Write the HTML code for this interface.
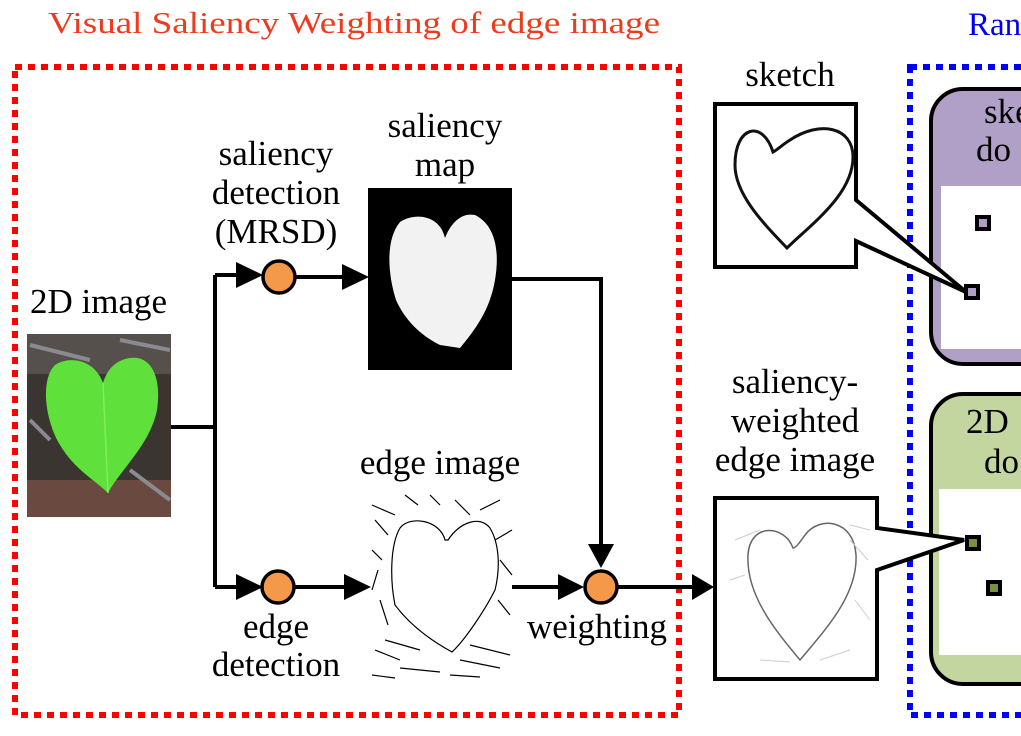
<!DOCTYPE html>
<html><head><meta charset="utf-8"><style>
html,body{margin:0;padding:0;background:#fff;}
svg{display:block;}
text{font-family:"Liberation Serif","Times New Roman",Times,"DejaVu Serif",serif;}
</style></head><body>
<svg width="1021" height="736" viewBox="0 0 1021 736" xmlns="http://www.w3.org/2000/svg">
<text x="48" y="33" font-size="31" fill="#f03a1e" textLength="612" lengthAdjust="spacingAndGlyphs">Visual Saliency Weighting of edge image</text>
<text x="968" y="35" font-size="33" fill="#0000ee">Ran</text>

<rect x="15" y="67" width="664" height="648" fill="none" stroke="#ff0000" stroke-width="6" stroke-dasharray="7 6"/>
<rect x="910" y="67" width="200" height="648" fill="none" stroke="#0000ff" stroke-width="6" stroke-dasharray="7 6"/>

<rect x="931" y="89" width="150" height="275" rx="32" fill="#b0a0c8" stroke="#000" stroke-width="4"/>
<rect x="941" y="186" width="90" height="163" fill="#fff"/>
<text x="984" y="123" font-size="35">ske</text>
<text x="976" y="161" font-size="35">do</text>
<rect x="977" y="217" width="12" height="12" fill="#b0a0c8" stroke="#000" stroke-width="4"/>
<rect x="966" y="286" width="12" height="12" fill="#b0a0c8" stroke="#000" stroke-width="4"/>

<rect x="931" y="394" width="150" height="290" rx="32" fill="#c4d6a0" stroke="#000" stroke-width="4"/>
<rect x="939" y="489" width="90" height="166" fill="#fff"/>
<text x="966" y="433" font-size="35">2D</text>
<text x="984" y="473" font-size="35">do</text>
<rect x="967" y="537" width="12" height="12" fill="#7a9040" stroke="#000" stroke-width="4"/>
<rect x="988" y="582" width="12" height="12" fill="#7a9040" stroke="#000" stroke-width="4"/>

<text x="790" y="86" font-size="35" text-anchor="middle">sketch</text>
<path d="M715,104 L856,104 L856,200 L966,292 L856,241 L856,267 L715,267 Z" fill="#fff" stroke="#000" stroke-width="4"/>
<path d="M773,152 C763,120 735,125 735,165 C735,195 765,225 787,248 C810,225 853,195 853,157 C853,127 820,120 790,140 C782,145 777,150 773,152 Z" fill="none" stroke="#111" stroke-width="3"/>

<text x="795" y="393" font-size="35" text-anchor="middle">saliency-</text>
<text x="795" y="432" font-size="35" text-anchor="middle">weighted</text>
<text x="795" y="471" font-size="35" text-anchor="middle">edge image</text>
<path d="M715,498 L877,498 L877,528 L964,540 L877,570 L877,679 L715,679 Z" fill="#fff" stroke="#000" stroke-width="4"/>
<path d="M793,548 C785,525 750,522 748,555 C746,595 775,630 800,660 C825,630 858,595 856,555 C854,520 820,515 805,535 C800,542 796,548 793,548 Z" fill="none" stroke="#666" stroke-width="1.5"/>
<g stroke="#ccc" stroke-width="1" fill="none">
<path d="M735,540 L760,530 M730,580 L745,575 M850,540 L868,560 M855,600 L870,620 M760,660 L790,662 M820,660 L850,650 M850,525 L870,530"/>
</g>

<text x="30" y="313" font-size="35">2D image</text>
<rect x="27" y="334" width="144" height="183" fill="#3a3530"/>
<rect x="27" y="334" width="144" height="40" fill="#55504c"/>
<rect x="27" y="480" width="144" height="37" fill="#6a4a40"/>
<path d="M30,345 L90,360 M120,340 L170,350 M130,470 L170,500 M30,420 L50,440" stroke="#8a8a90" stroke-width="4"/>
<path d="M103,383 C95,360 70,355 55,365 C40,380 45,420 60,445 C75,470 95,480 108,493 C120,470 150,445 157,410 C162,375 150,355 130,358 C115,360 107,370 103,383 Z" fill="#5fe03a"/>
<path d="M103,383 L108,493" stroke="#7ff05a" stroke-width="1.5"/>

<g stroke="#000" stroke-width="4" fill="none">
<path d="M171,427 L215,427 M215,275 L215,587 M215,275 L248,275 M215,587 L248,587"/>
<path d="M295,277 L350,277 M295,587 L350,587"/>
<path d="M512,279 L601,279 L601,548"/>
<path d="M512,587 L562,587 M617,587 L695,587"/>
</g>
<g fill="#000">
<path d="M236,262 L263,275 L236,288 Z"/>
<path d="M236,574 L263,587 L236,600 Z"/>
<path d="M342,264 L369,277 L342,290 Z"/>
<path d="M344,574 L371,587 L344,600 Z"/>
<path d="M588,544 L614,544 L601,568 Z"/>
<path d="M558,574 L584,587 L558,600 Z"/>
<path d="M692,574 L714,587 L692,600 Z"/>
</g>
<g fill="#f4994a" stroke="#000" stroke-width="3.5">
<circle cx="279" cy="277" r="16"/>
<circle cx="278" cy="587" r="16"/>
<circle cx="601" cy="587" r="16"/>
</g>

<text x="276" y="165" font-size="35" text-anchor="middle">saliency</text>
<text x="276" y="204" font-size="35" text-anchor="middle">detection</text>
<text x="276" y="243" font-size="35" text-anchor="middle">(MRSD)</text>
<text x="445" y="137" font-size="35" text-anchor="middle">saliency</text>
<text x="445" y="176" font-size="35" text-anchor="middle">map</text>
<text x="440" y="474" font-size="35" text-anchor="middle">edge image</text>
<text x="276" y="638" font-size="35" text-anchor="middle">edge</text>
<text x="276" y="676" font-size="35" text-anchor="middle">detection</text>
<text x="597" y="638" font-size="35" text-anchor="middle">weighting</text>

<rect x="368" y="188" width="144" height="182" fill="#000"/>
<path d="M445,238 C440,215 415,212 400,222 C385,240 388,275 396,300 C405,320 420,335 440,345 L460,348 C475,330 490,310 495,280 C500,250 495,225 475,215 C460,212 450,225 445,238 Z" fill="#f2f2f2"/>

<g fill="none" stroke="#000" stroke-width="1.2">
<path d="M445,540 C440,520 410,515 400,528 C390,545 390,580 395,605 C410,625 430,640 452,652 C465,640 485,610 495,590 C500,570 500,545 490,528 C480,515 460,522 448,540 Z"/>
<path d="M372,505 L395,515 M375,520 L388,535 M372,550 L382,560 M378,570 L372,590 M380,600 L388,625 M375,650 L400,660 M400,668 L440,672 M460,660 L500,668 M470,645 L510,655 M480,510 L500,500 M455,500 L470,515 M430,495 L440,505 M495,540 L512,530 M500,560 L512,575 M498,600 L510,615 M385,640 L420,650 M405,495 L418,505 M372,675 L395,678 M450,675 L480,677"/>
</g>
</svg>
</body></html>
